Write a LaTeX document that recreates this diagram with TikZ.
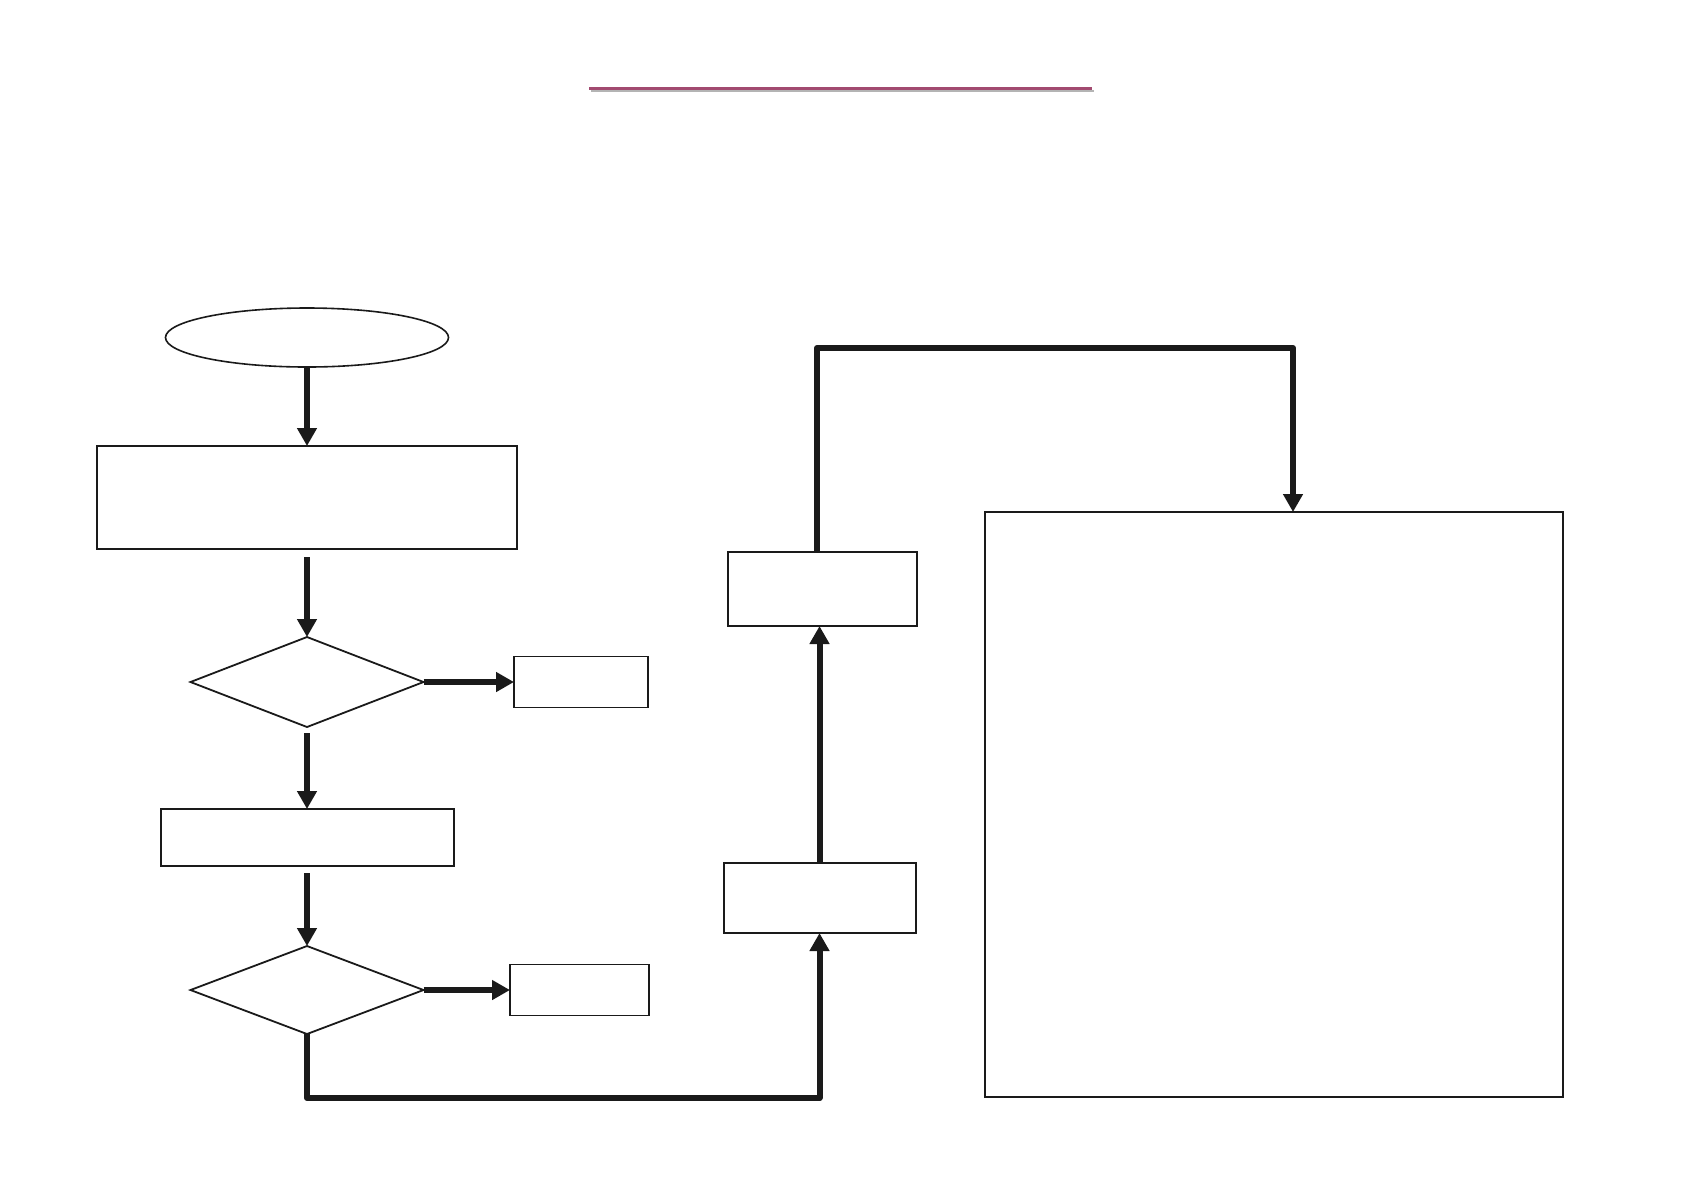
\documentclass[tikz,border=0pt]{standalone}
\usepackage{tikz}
\usetikzlibrary{shapes.geometric, arrows.meta, positioning}
\definecolor{linegray}{HTML}{1A1A1A}
\definecolor{titlerule}{HTML}{A24A70}
\definecolor{ruleshadow}{HTML}{B4B4B4}
\tikzset{every box/.style={draw=linegray,line width=1pt,inner sep=0pt,outer sep=0pt},
         box/.style={every box,rectangle},
         smallbox/.style={draw=linegray,line width=0.65pt,inner sep=0pt,outer sep=0pt},
         decision/.style={every box,diamond,line width=0.9pt},
         startstop/.style={every box,ellipse,line width=0.8pt},
         flow/.style={draw=linegray,line width=3pt,line join=round,
                      -{Triangle[width=9.5pt,length=9pt]}}}

\begin{document}
\begin{tikzpicture}[x=0.5pt,y=-0.5pt]
        \useasboundingbox (0,0) rectangle (1684,1190);
        % title rule
        \fill[ruleshadow](591,89.5) rectangle (1094,92.3);
        \fill[titlerule](589,87.2) rectangle (1092,89.8);

        \node[startstop, minimum width=141.5pt, minimum height=29.5pt](start)at(307,337.5){};
        \node[box, minimum width=210pt, minimum height=51.5pt](prep)at(307,497.5){};
        \node[decision, minimum width=116.5pt, minimum height=45pt](check1)at(307,682){};
        \node[smallbox, minimum width=67pt, minimum height=25.5pt](out1)at(581,682){};
        \node[box, minimum width=146.5pt, minimum height=28.5pt](step2)at(307,837.5){};
        \node[decision, minimum width=116.5pt, minimum height=44pt](check2)at(307,990){};
        \node[smallbox, minimum width=69.5pt, minimum height=25.5pt](out2)at(579.5,990){};
        \node[box, minimum width=96pt, minimum height=35pt](step3)at(819.5,898){};
        \node[box, minimum width=94.5pt, minimum height=37pt](step4)at(822.5,589){};
        \node[box, minimum width=289pt, minimum height=292.5pt](result)at(1274,804.5){};

        \coordinate(low)at(307,1098);
        \coordinate(up1)at(817,348);
        \coordinate(up2)at(1293,348);

        \draw[flow](start.south)--(prep.north);
        \draw[flow, shorten <=4pt](prep.south)--(check1.north);
        \draw[flow](check1.east)--(out1.west);
        \draw[flow, shorten <=3pt](check1.south)--(step2.north);
        \draw[flow, shorten <=3.5pt](step2.south)--(check2.north);
        \draw[flow](check2.east)--(out2.west);
        \draw[flow](check2.south)--(low)-|(step3.south);
        \draw[flow](step3.north)--(step3.north |- step4.south);
        \draw[flow](step4.north -| up1)--(up1)--(up2)--(up2 |- result.north);
    \end{tikzpicture}
\end{document}
